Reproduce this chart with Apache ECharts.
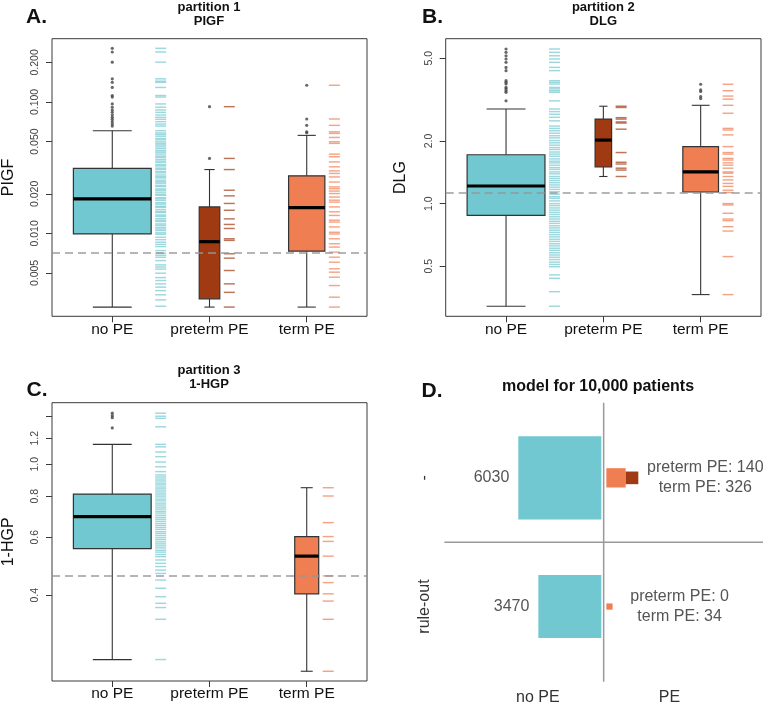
<!DOCTYPE html>
<html>
<head>
<meta charset="utf-8">
<script src="https://cdn.jsdelivr.net/npm/echarts@6/dist/echarts.min.js"></script>
<style>
html,body{margin:0;padding:0;background:#fff;}
#chart{width:763px;height:706px;}
</style>
</head>
<body>
<div id="chart"></div>
<script>
// ---------------- DATA ----------------
const groups = ['no PE', 'preterm PE', 'term PE'];

// Panel A: PIGF  (stats = [lower whisker, Q1, median, Q3, upper whisker])
const pigfTicks = [0.005, 0.01, 0.02, 0.05, 0.1, 0.2];
const pigfTickLabels = ['0.005', '0.010', '0.020', '0.050', '0.100', '0.200'];
const pigfRange = [0.00234, 0.303];
const pigfCut = 0.00707;
const pigfN = [400, 28, 87];
const pigfStats = [
  [0.00275, 0.0099, 0.0183, 0.0312, 0.0604],
  [0.00275, 0.00318, 0.00865, 0.0159, 0.0306],
  [0.00275, 0.00733, 0.0157, 0.0274, 0.0557]
];
const pigfOutliers = [
  [0.256, 0.240, 0.201, 0.150, 0.141, 0.129, 0.112, 0.109, 0.0966, 0.0912, 0.0869, 0.0834, 0.0796, 0.0764, 0.0738, 0.0708, 0.0679, 0.0656],
  [0.0921, 0.0372],
  [0.134, 0.0742, 0.0664, 0.0593, 0.0583]
];
const pigfRug = [
  [0.256, 0.240, 0.201, 0.150, 0.144, 0.141, 0.129, 0.112, 0.109, 0.0966, 0.0912, 0.0869, 0.0834, 0.0796, 0.0764, 0.0738, 0.0708, 0.0679, 0.0656, 0.0604, 0.0581, 0.0566, 0.0549, 0.0528, 0.0515, 0.0497, 0.0482, 0.0470, 0.0455, 0.0441, 0.0426, 0.0415, 0.0402, 0.0388, 0.0379, 0.0366, 0.0355, 0.0346, 0.0333, 0.0326, 0.0314, 0.0307, 0.0296, 0.0289, 0.0278, 0.0270, 0.0264, 0.0254, 0.0247, 0.0241, 0.0232, 0.0227, 0.0218, 0.0213, 0.0206, 0.0199, 0.0195, 0.0187, 0.0183, 0.0178, 0.0171, 0.0167, 0.0161, 0.0158, 0.0152, 0.0147, 0.0144, 0.0138, 0.0135, 0.0130, 0.0126, 0.0123, 0.0118, 0.0115, 0.0111, 0.0108, 0.0105, 0.0101, 0.00985, 0.00935, 0.00896, 0.00857, 0.00825, 0.00794, 0.00740, 0.00707, 0.00682, 0.00659, 0.00621, 0.00576, 0.00555, 0.00535, 0.00498, 0.00461, 0.00438, 0.00413, 0.00390, 0.00367, 0.00341, 0.00312, 0.00279],
  [0.0921, 0.0372, 0.0306, 0.0213, 0.0193, 0.0169, 0.0150, 0.0129, 0.0117, 0.0109, 0.0091, 0.00885, 0.0070, 0.00648, 0.00522, 0.00413, 0.00356, 0.00275],
  [0.134, 0.0742, 0.0664, 0.0593, 0.0577, 0.0537, 0.0498, 0.0484, 0.0401, 0.0383, 0.0350, 0.0321, 0.0299, 0.0286, 0.0269, 0.0246, 0.0226, 0.0219, 0.0210, 0.0201, 0.0189, 0.0179, 0.0173, 0.0159, 0.0146, 0.0137, 0.0126, 0.0122, 0.0112, 0.0102, 0.0099, 0.0091, 0.00834, 0.00787, 0.00720, 0.00659, 0.00604, 0.00538, 0.00507, 0.00464, 0.00401, 0.00327, 0.00275]
];

// Panel B: DLG
const dlgTicks = [0.5, 1, 2, 5];
const dlgTickLabels = ['0.5', '1.0', '2.0', '5.0'];
const dlgRange = [0.287, 6.21];
const dlgCut = 1.12;
const dlgN = [400, 18, 84];
const dlgStats = [
  [0.321, 0.878, 1.215, 1.718, 2.85],
  [1.35, 1.50, 2.02, 2.55, 2.94],
  [0.365, 1.137, 1.42, 1.88, 2.97]
];
const dlgOutliers = [
  [5.54, 5.34, 5.14, 4.96, 4.78, 4.52, 4.36, 3.90, 3.83, 3.76, 3.62, 3.56, 3.49, 3.43, 3.12],
  [],
  [3.75, 3.52, 3.46, 3.27, 3.20]
];
const dlgRug = [
  [5.54, 5.34, 5.14, 4.96, 4.78, 4.52, 4.36, 3.90, 3.83, 3.76, 3.62, 3.56, 3.49, 3.43, 3.12, 2.85, 2.77, 2.69, 2.60, 2.50, 2.36, 2.30, 2.24, 2.18, 2.12, 2.07, 2.01, 1.96, 1.91, 1.86, 1.82, 1.77, 1.73, 1.69, 1.64, 1.60, 1.57, 1.53, 1.49, 1.46, 1.42, 1.39, 1.35, 1.32, 1.29, 1.26, 1.23, 1.20, 1.17, 1.14, 1.11, 1.08, 1.06, 1.03, 1.00, 0.978, 0.953, 0.930, 0.907, 0.886, 0.864, 0.843, 0.822, 0.803, 0.782, 0.764, 0.745, 0.727, 0.709, 0.692, 0.674, 0.658, 0.641, 0.626, 0.610, 0.596, 0.580, 0.566, 0.552, 0.538, 0.523, 0.510, 0.497, 0.454, 0.437, 0.377, 0.321],
  [2.94, 2.90, 2.59, 2.55, 2.47, 2.44, 2.28, 1.76, 1.58, 1.55, 1.48, 1.45, 1.35],
  [3.75, 3.49, 3.29, 3.18, 2.97, 2.72, 2.30, 2.26, 2.14, 1.88, 1.76, 1.73, 1.65, 1.62, 1.57, 1.53, 1.48, 1.42, 1.40, 1.35, 1.30, 1.25, 1.21, 1.16, 1.13, 1.00, 0.985, 0.898, 0.843, 0.828, 0.774, 0.738, 0.556, 0.365]
];

// Panel C: 1-HGP
const hgpTicks = [0.4, 0.6, 0.8, 1.0, 1.2, 1.4];
const hgpTickLabels = ['0.4', '0.6', '0.8', '1.0', '1.2', ''];
const hgpRange = [0.2195, 1.539];
const hgpCut = 0.46;
const hgpN = [400, 0, 38];
const hgpStats = [
  [0.255, 0.554, 0.693, 0.812, 1.15],
  null,
  [0.235, 0.404, 0.526, 0.603, 0.849]
];
const hgpOutliers = [
  [1.43, 1.405, 1.386, 1.29],
  [],
  []
];
const hgpRug = [
  [1.43, 1.40, 1.38, 1.30, 1.15, 1.13, 1.09, 1.055, 1.016, 0.983, 0.950, 0.928, 0.915, 0.902, 0.890, 0.877, 0.866, 0.853, 0.842, 0.830, 0.818, 0.807, 0.796, 0.784, 0.774, 0.762, 0.752, 0.741, 0.731, 0.720, 0.711, 0.700, 0.690, 0.681, 0.671, 0.661, 0.652, 0.643, 0.634, 0.624, 0.616, 0.607, 0.598, 0.590, 0.581, 0.573, 0.565, 0.557, 0.548, 0.541, 0.532, 0.524, 0.512, 0.500, 0.489, 0.477, 0.466, 0.445, 0.420, 0.396, 0.378, 0.367, 0.338, 0.255],
  [],
  [0.849, 0.801, 0.665, 0.603, 0.583, 0.526, 0.458, 0.437, 0.404, 0.384, 0.338, 0.235]
];

// Panel D: model for 10,000 patients
const dRows = ['rule-out', '-'];
const dNoPE = [3470, 6030];
const dPreterm = [0, 140];
const dTerm = [34, 326];

// ---------------- STYLE ----------------
const FONT = '"Liberation Sans", Arial, Helvetica, sans-serif';
const COLORS = ['#72C8D0', '#A03A12', '#EF7E52'];
const FRAME = '#3a3a3a';

const chart = echarts.init(document.getElementById('chart'), null, {renderer: 'canvas'});

const L = Math.log10;

function boxRender(params, api) {
  const x = api.value(0);
  const w = api.value(6);
  const pLo = api.coord([x, api.value(1)]);
  const pQ1 = api.coord([x, api.value(2)]);
  const pMed = api.coord([x, api.value(3)]);
  const pQ3 = api.coord([x, api.value(4)]);
  const pHi = api.coord([x, api.value(5)]);
  const half = api.size([w / 2, 0])[0];
  const cx = pMed[0];
  const color = COLORS[Math.round(x) - 1];
  const ln = {stroke: '#333', lineWidth: 1.1};
  return {
    type: 'group',
    children: [
      {type: 'line', shape: {x1: cx, y1: pQ3[1], x2: cx, y2: pHi[1]}, style: ln},
      {type: 'line', shape: {x1: cx, y1: pQ1[1], x2: cx, y2: pLo[1]}, style: ln},
      {type: 'line', shape: {x1: cx - half / 2, y1: pHi[1], x2: cx + half / 2, y2: pHi[1]}, style: ln},
      {type: 'line', shape: {x1: cx - half / 2, y1: pLo[1], x2: cx + half / 2, y2: pLo[1]}, style: ln},
      {type: 'rect', shape: {x: cx - half, y: pQ3[1], width: 2 * half, height: pQ1[1] - pQ3[1]},
        style: {fill: color, stroke: '#333', lineWidth: 1.2}},
      {type: 'line', shape: {x1: cx - half, y1: pMed[1], x2: cx + half, y2: pMed[1]},
        style: {stroke: '#000', lineWidth: 3.2}}
    ]
  };
}

function rugRender(params, api) {
  const x = api.value(0);
  const w = api.value(2);
  const p = api.coord([x + w / 2, api.value(1)]);
  const color = COLORS[Math.round(x) - 1];
  return {
    type: 'line',
    shape: {x1: p[0] + 4, y1: p[1], x2: p[0] + 15, y2: p[1]},
    style: {stroke: color, lineWidth: 1.45, opacity: 0.7}
  };
}

function widthsFrom(n) {
  const m = Math.max.apply(null, n);
  return n.map(v => 0.8 * Math.sqrt(v / m));
}

function makePanel(idx, grid, cfg) {
  const widths = widthsFrom(cfg.n);
  const boxData = [];
  cfg.stats.forEach((s, i) => {
    if (s) boxData.push([i + 1].concat(s.map(L)).concat([widths[i]]));
  });
  const rugData = [];
  cfg.rug.forEach((arr, i) => arr.forEach(v => rugData.push([i + 1, L(v), widths[i]])));
  const outData = [];
  cfg.outliers.forEach((arr, i) => arr.forEach(v => outData.push([i + 1, L(v)])));
  const tickVals = cfg.ticks.map(L);
  const labelVals = cfg.ticks.filter((t, i) => cfg.tickLabels[i] !== '').map(L);

  const xAxis = {
    gridIndex: idx, type: 'value', min: 0.38, max: 3.62,
    axisLine: {show: false, onZero: false},
    splitLine: {show: false},
    axisTick: {show: true, inside: false, length: 6, customValues: [1, 2, 3], lineStyle: {color: FRAME, width: 1}},
    axisLabel: {
      show: true, customValues: [1, 2, 3], margin: 5,
      fontFamily: FONT, fontSize: 15.5, color: '#111',
      formatter: v => groups[Math.round(v) - 1]
    }
  };
  const yAxis = {
    gridIndex: idx, type: 'value', min: L(cfg.range[0]), max: L(cfg.range[1]),
    name: cfg.name, nameLocation: 'middle', nameRotate: 90, nameGap: cfg.nameGap,
    nameTextStyle: {fontFamily: FONT, fontSize: 16, color: '#111'},
    axisLine: {show: false, onZero: false},
    splitLine: {show: false},
    axisTick: {show: true, inside: false, length: 6, customValues: tickVals, lineStyle: {color: FRAME, width: 1}},
    axisLabel: {
      show: true, customValues: labelVals, rotate: 90, margin: 11,
      fontFamily: FONT, fontSize: 10.5, color: '#444',
      formatter: v => {
        for (let i = 0; i < cfg.ticks.length; i++) {
          if (Math.abs(L(cfg.ticks[i]) - v) < 1e-6) return cfg.tickLabels[i];
        }
        return '';
      }
    }
  };
  const series = [
    {
      type: 'custom', xAxisIndex: idx, yAxisIndex: idx, renderItem: boxRender,
      encode: {x: 0, y: [1, 2, 3, 4, 5]}, data: boxData, silent: true, z: 2
    },
    {
      type: 'custom', xAxisIndex: idx, yAxisIndex: idx, renderItem: rugRender,
      encode: {x: 0, y: 1}, data: rugData, silent: true, z: 2
    },
    {
      type: 'scatter', xAxisIndex: idx, yAxisIndex: idx, data: outData,
      symbol: 'circle', symbolSize: 3.2, itemStyle: {color: '#444'}, silent: true, z: 3,
      markLine: {
        silent: true, symbol: ['none', 'none'], label: {show: false},
        lineStyle: {color: 'rgba(150,150,150,0.7)', type: [8, 5], width: 2},
        data: [{yAxis: L(cfg.cut)}], animation: false
      }
    }
  ];
  return {grid, xAxis, yAxis, series};
}

const pA = makePanel(0, {left: 51, top: 38.7, width: 316, height: 277.6}, {
  n: pigfN, stats: pigfStats, rug: pigfRug, outliers: pigfOutliers, ticks: pigfTicks,
  tickLabels: pigfTickLabels, range: pigfRange, cut: pigfCut, name: 'PIGF', nameGap: 35
});
const pB = makePanel(1, {left: 445.7, top: 38.7, width: 315.3, height: 277.6}, {
  n: dlgN, stats: dlgStats, rug: dlgRug, outliers: dlgOutliers, ticks: dlgTicks,
  tickLabels: dlgTickLabels, range: dlgRange, cut: dlgCut, name: 'DLG', nameGap: 37
});
const pC = makePanel(2, {left: 51, top: 402.7, width: 316, height: 278.3}, {
  n: hgpN, stats: hgpStats, rug: hgpRug, outliers: hgpOutliers, ticks: hgpTicks,
  tickLabels: hgpTickLabels, range: hgpRange, cut: hgpCut, name: '1-HGP', nameGap: 35
});

// Panel D
const dData = dRows.map((r, i) => [i, dNoPE[i], dPreterm[i], dTerm[i]]);
function dRender(params, api) {
  const row = api.value(0);
  const nNo = api.value(1), nPre = api.value(2), nTerm = api.value(3);
  const c = api.coord([0, row]);
  const sNo = api.size([Math.sqrt(nNo), 0])[0];
  const sPre = api.size([Math.sqrt(nPre), 0])[0];
  const sTerm = api.size([Math.sqrt(nTerm), 0])[0];
  const children = [];
  const cs = params.coordSys;
  if (params.dataIndex === 0) {
    const yMid = (api.coord([0, 0])[1] + api.coord([0, 1])[1]) / 2;
    children.push({type: 'line', shape: {x1: cs.x, y1: yMid, x2: cs.x + cs.width, y2: yMid},
      style: {stroke: '#9a9a9a', lineWidth: 1.5}});
    children.push({type: 'line', shape: {x1: c[0], y1: cs.y, x2: c[0], y2: cs.y + cs.height},
      style: {stroke: '#9a9a9a', lineWidth: 1.5}});
  }
  const left = c[0] - 2.3;
  children.push({type: 'rect', shape: {x: left - sNo, y: c[1] - sNo / 2, width: sNo, height: sNo},
    style: {fill: COLORS[0]}});
  children.push({type: 'text', style: {text: String(nNo), x: left - sNo - 9, y: c[1],
    align: 'right', verticalAlign: 'middle', fontFamily: FONT, fontSize: 16, fill: '#555'}});
  let rx = c[0] + 2.7;
  if (sTerm > 0) {
    children.push({type: 'rect', shape: {x: rx, y: c[1] - sTerm / 2, width: sTerm, height: sTerm},
      style: {fill: COLORS[2]}});
    rx += sTerm;
  }
  if (sPre > 0) {
    children.push({type: 'rect', shape: {x: rx, y: c[1] - sPre / 2, width: sPre, height: sPre},
      style: {fill: COLORS[1]}});
    rx += sPre;
  }
  children.push({type: 'text', style: {
    text: 'preterm PE: ' + nPre + '\nterm PE: ' + nTerm, x: rx + 67, y: c[1],
    align: 'center', verticalAlign: 'middle', lineHeight: 19.6,
    fontFamily: FONT, fontSize: 16, fill: '#555'}});
  return {type: 'group', children};
}

const option = {
  animation: false,
  backgroundColor: '#fff',
  textStyle: {fontFamily: FONT},
  title: [
    {text: 'partition 1\nPIGF', left: 209, top: 0, textAlign: 'center', padding: 0,
      textStyle: {fontFamily: FONT, fontSize: 13, fontWeight: 'bold', lineHeight: 14, color: '#111'}},
    {text: 'partition 2\nDLG', left: 603.3, top: 0, textAlign: 'center', padding: 0,
      textStyle: {fontFamily: FONT, fontSize: 13, fontWeight: 'bold', lineHeight: 14, color: '#111'}},
    {text: 'partition 3\n1-HGP', left: 209, top: 363.5, textAlign: 'center', padding: 0,
      textStyle: {fontFamily: FONT, fontSize: 13, fontWeight: 'bold', lineHeight: 14, color: '#111'}},
    {text: 'model for 10,000 patients', left: 598, top: 378, textAlign: 'center', padding: 0,
      textStyle: {fontFamily: FONT, fontSize: 16, fontWeight: 'bold', lineHeight: 18, color: '#111'}},
    {text: 'A.', left: 26, top: 5, padding: 0, textStyle: {fontFamily: FONT, fontSize: 21, fontWeight: 'bold', lineHeight: 24, color: '#111'}},
    {text: 'B.', left: 422, top: 5, padding: 0, textStyle: {fontFamily: FONT, fontSize: 21, fontWeight: 'bold', lineHeight: 24, color: '#111'}},
    {text: 'C.', left: 26.5, top: 378.5, padding: 0, textStyle: {fontFamily: FONT, fontSize: 21, fontWeight: 'bold', lineHeight: 24, color: '#111'}},
    {text: 'D.', left: 421.5, top: 379.5, padding: 0, textStyle: {fontFamily: FONT, fontSize: 21, fontWeight: 'bold', lineHeight: 24, color: '#111'}}
  ],
  grid: [
    Object.assign({show: true, borderColor: FRAME, borderWidth: 1, backgroundColor: 'transparent'}, pA.grid),
    Object.assign({show: true, borderColor: FRAME, borderWidth: 1, backgroundColor: 'transparent'}, pB.grid),
    Object.assign({show: true, borderColor: FRAME, borderWidth: 1, backgroundColor: 'transparent'}, pC.grid),
    {left: 444.3, top: 402.7, width: 318.7, height: 279, show: false}
  ],
  xAxis: [pA.xAxis, pB.xAxis, pC.xAxis, {
    gridIndex: 3, type: 'value', min: -149, max: 149,
    axisLine: {show: false, onZero: false}, axisTick: {show: false}, splitLine: {show: false},
    axisLabel: {show: true, customValues: [-61.5, 61.5], margin: 8,
      fontFamily: FONT, fontSize: 16, color: '#333',
      formatter: v => (v < 0 ? 'no PE' : 'PE')}
  }],
  yAxis: [pA.yAxis, pB.yAxis, pC.yAxis, {
    gridIndex: 3, type: 'value', min: -0.584, max: 1.584,
    axisLine: {show: false, onZero: false}, axisTick: {show: false}, splitLine: {show: false},
    axisLabel: {show: true, customValues: [0, 1], rotate: 90, margin: 12,
      fontFamily: FONT, fontSize: 16, color: '#333',
      formatter: v => dRows[Math.round(v)]}
  }],
  series: [].concat(pA.series, pB.series, pC.series, [{
    type: 'custom', xAxisIndex: 3, yAxisIndex: 3, renderItem: dRender,
    encode: {x: 1, y: 0}, data: dData, silent: true
  }])
};

chart.setOption(option);
</script>
</body>
</html>
